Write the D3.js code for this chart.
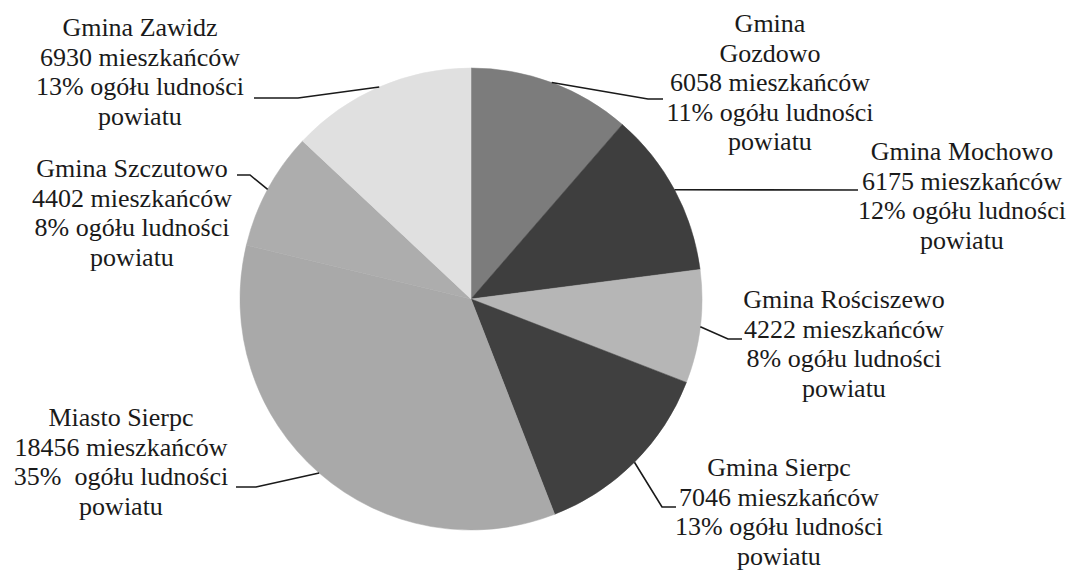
<!DOCTYPE html>
<html>
<head>
<meta charset="utf-8">
<script src="https://cdn.jsdelivr.net/npm/d3@7"></script>
<style>
  body { margin: 0; background: #fff; }
  svg text { font-family: "Times New Roman", Times, "Liberation Serif", Tinos, "DejaVu Serif", "Noto Serif", serif; }
</style>
</head>
<body>
<svg id="viz"></svg>
<script>
const svg = d3.select("#viz");

const width = 1076;
const height = 572;

// Data: one entry per gmina, clockwise from 12 o'clock
const names = ["Gmina\nGozdowo", "Gmina Mochowo", "Gmina Rościszewo", "Gmina Sierpc",
               "Miasto Sierpc", "Gmina Szczutowo", "Gmina Zawidz"];
const residents = [6058, 6175, 4222, 7046, 18456, 4402, 6930];
const colors = ["#7c7c7c", "#3e3e3e", "#b6b6b6", "#404040", "#a9a9a9", "#adadad", "#e0e0e0"];

// label layout: text centre x, first baseline, where the leader line meets the text
const labelPos = [
  {x: 770, y: 32,  ex: 663, ey: 99,  elbow: 648},
  {x: 962, y: 160, ex: 858, ey: 190, elbow: 858},
  {x: 844, y: 308, ex: 742, ey: 339, elbow: 728},
  {x: 779, y: 476, ex: 676, ey: 507, elbow: 662},
  {x: 121, y: 426, ex: 236, ey: 487, elbow: 256},
  {x: 132, y: 177, ex: 237, ey: 175, elbow: 250},
  {x: 140, y: 36,  ex: 254, ey: 98,  elbow: 298}
];

svg.attr("width", width).attr("height", height);

const cx = 471, cy = 299, radius = 231;
const lineH = 29.5;

const total = d3.sum(residents);

const pie = d3.pie().sort(null).value(d => d);
const arcs = pie(residents);

const arc = d3.arc().innerRadius(0).outerRadius(radius);
const edge = d3.arc().innerRadius(radius).outerRadius(radius);

const g = svg.append("g").attr("transform", `translate(${cx},${cy})`);

g.selectAll("path")
  .data(arcs)
  .enter()
  .append("path")
  .attr("d", arc)
  .attr("fill", (d, i) => colors[i])
  .attr("stroke", (d, i) => colors[i])
  .attr("stroke-width", 0.5);

// leader lines from slice midpoint on the edge
svg.selectAll("polyline")
  .data(arcs)
  .enter()
  .append("polyline")
  .attr("points", (d, i) => {
    const [px, py] = edge.centroid(d);
    const p = labelPos[i];
    return `${cx + px},${cy + py} ${p.elbow},${p.ey} ${p.ex},${p.ey}`;
  })
  .attr("fill", "none")
  .attr("stroke", "#1a1a1a")
  .attr("stroke-width", 1.6);

const labels = svg.selectAll("text.lab")
  .data(arcs)
  .enter()
  .append("text")
  .attr("class", "lab")
  .attr("text-anchor", "middle")
  .attr("font-size", 26)
  .attr("fill", "#1a1a1a")
  .style("white-space", "pre");

labels.each(function(d, i) {
  const pct = Math.round(d.value / total * 100);
  const sep = names[i] === "Miasto Sierpc" ? "%\u00a0 " : "% ";
  const lines = names[i].split("\n").concat([
    `${d.value} mieszkańców`,
    `${pct}${sep}ogółu ludności`,
    "powiatu"
  ]);
  const p = labelPos[i];
  d3.select(this).selectAll("tspan")
    .data(lines)
    .enter()
    .append("tspan")
    .attr("x", p.x)
    .attr("y", (l, k) => p.y + k * lineH)
    .text(l => l);
});
</script>
</body>
</html>
